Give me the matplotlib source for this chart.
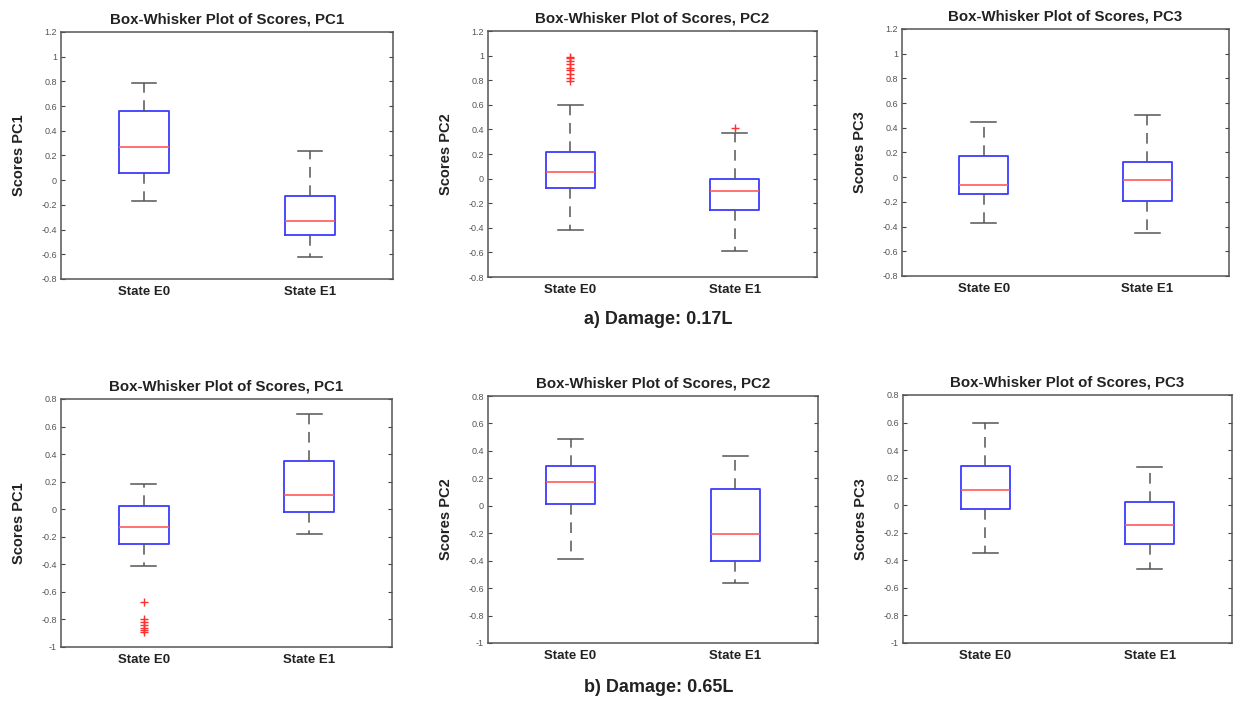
import matplotlib
matplotlib.use("Agg")
import matplotlib.pyplot as plt
from matplotlib.ticker import FixedLocator

plt.rcParams['font.family'] = ['Liberation Sans', 'DejaVu Sans']

W, H = 1233, 702
DPI = 100

states = ["State E0", "State E1"]
components = ["PC1", "PC2", "PC3"]

# Five-number summaries per state: (lower whisker, Q1, median, Q3, upper whisker)
# Damage 0.17L
a_pc1_e0 = (-0.17, 0.06, 0.27, 0.56, 0.79)
a_pc1_e1 = (-0.62, -0.44, -0.33, -0.13, 0.24)
a_pc2_e0 = (-0.42, -0.08, 0.055, 0.215, 0.60)
a_pc2_e1 = (-0.59, -0.255, -0.10, 0.0, 0.37)
a_pc3_e0 = (-0.37, -0.14, -0.06, 0.17, 0.445)
a_pc3_e1 = (-0.455, -0.19, -0.025, 0.125, 0.50)
# Damage 0.65L
b_pc1_e0 = (-0.41, -0.25, -0.13, 0.025, 0.18)
b_pc1_e1 = (-0.18, -0.02, 0.10, 0.35, 0.69)
b_pc2_e0 = (-0.385, 0.015, 0.17, 0.29, 0.485)
b_pc2_e1 = (-0.56, -0.40, -0.205, 0.125, 0.365)
b_pc3_e0 = (-0.35, -0.03, 0.11, 0.285, 0.60)
b_pc3_e1 = (-0.465, -0.28, -0.145, 0.02, 0.28)

# Outlying scores
a_pc2_e0_out = [0.79, 0.82, 0.85, 0.88, 0.90, 0.93, 0.96, 0.98, 0.99]
a_pc2_e1_out = [0.41]
b_pc1_e0_out = [-0.67, -0.80, -0.82, -0.84, -0.86, -0.88, -0.89]

top_yticks = [-0.8, -0.6, -0.4, -0.2, 0, 0.2, 0.4, 0.6, 0.8, 1, 1.2]
bot_yticks = [-1, -0.8, -0.6, -0.4, -0.2, 0, 0.2, 0.4, 0.6, 0.8]

panels = [
    # (pixel box left, top, right, bottom), summaries, outliers, y ticks, component
    ((61, 32, 393, 279), [a_pc1_e0, a_pc1_e1], [[], []], top_yticks, "PC1"),
    ((488, 31, 817, 277), [a_pc2_e0, a_pc2_e1], [a_pc2_e0_out, a_pc2_e1_out], top_yticks, "PC2"),
    ((902, 29, 1229, 276), [a_pc3_e0, a_pc3_e1], [[], []], top_yticks, "PC3"),
    ((61, 399, 392, 647), [b_pc1_e0, b_pc1_e1], [b_pc1_e0_out, []], bot_yticks, "PC1"),
    ((488, 396, 818, 643), [b_pc2_e0, b_pc2_e1], [[], []], bot_yticks, "PC2"),
    ((903, 395, 1232, 643), [b_pc3_e0, b_pc3_e1], [[], []], bot_yticks, "PC3"),
]


def fmt(v):
    return f"{v:g}"


fig = plt.figure(figsize=(W / DPI, H / DPI), dpi=DPI)
fig.patch.set_facecolor("white")

for (l, t, r, b), summaries, outs, yticks, pc in panels:
    ax = fig.add_axes([l / W, 1 - b / H, (r - l) / W, (b - t) / H])
    stats = []
    for name, s, o in zip(states, summaries, outs):
        stats.append(dict(label=name, whislo=s[0], q1=s[1], med=s[2],
                          q3=s[3], whishi=s[4], fliers=o))
    ax.bxp(stats, positions=[1, 2], widths=0.3, showfliers=True,
           boxprops=dict(color="#3b3bff", linewidth=1.3),
           medianprops=dict(color="#ff5a5a", linewidth=1.2),
           whiskerprops=dict(color="#555555", linewidth=1.1,
                             linestyle=(0, (7, 5))),
           capprops=dict(color="#555555", linewidth=1.1),
           flierprops=dict(marker="+", markeredgecolor="#ff3030",
                           markersize=6, markeredgewidth=1.0,
                           linestyle="none"))
    ax.set_xlim(0.5, 2.5)
    ax.set_ylim(yticks[0], yticks[-1])
    ax.yaxis.set_major_locator(FixedLocator(yticks))
    ax.set_yticklabels([fmt(v) for v in yticks])
    ax.tick_params(axis="y", direction="in", length=3, width=0.8,
                   left=True, right=True, labelsize=6.5,
                   labelcolor="#555555", color="#444444", pad=3)
    ax.tick_params(axis="x", length=0, labelsize=9.5, pad=5)
    for lab in ax.get_xticklabels():
        lab.set_fontweight("bold")
        lab.set_color("#222222")
    for sp in ax.spines.values():
        sp.set_color("#555555")
        sp.set_linewidth(1.1)
    ax.set_title(f"Box-Whisker Plot of Scores, {pc}", fontsize=10.8,
                 fontweight="bold", color="#222222", pad=6)
    ax.set_ylabel(f"Scores {pc}", fontsize=10.5, fontweight="bold",
                  color="#222222", labelpad=11)

fig.text(658 / W, 1 - 319 / H, "a) Damage: 0.17L", ha="center", va="center",
         fontsize=13, fontweight="bold", color="#222222")
fig.text(659 / W, 1 - 687 / H, "b) Damage: 0.65L", ha="center", va="center",
         fontsize=13, fontweight="bold", color="#222222")

fig.savefig("out.png", dpi=DPI, facecolor="white")
